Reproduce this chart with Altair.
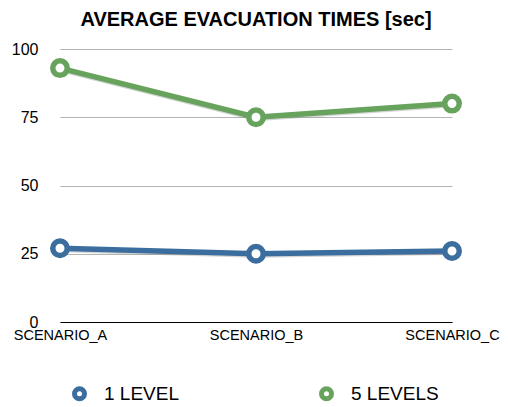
import altair as alt
import pandas as pd

scenarios = ["SCENARIO_A", "SCENARIO_B", "SCENARIO_C"]
series_names = ["1 LEVEL", "5 LEVELS"]
level1 = [27, 25, 26]
level5 = [93, 75, 80]
y_ticks = [0, 25, 50, 75, 100]
colors = ["#3b6e9e", "#68a35d"]

rows = []
for name, vals in zip(series_names, [level1, level5]):
    for s, v in zip(scenarios, vals):
        rows.append({"scenario": s, "series": name, "value": v})
df = pd.DataFrame(rows)

FONT = "Liberation Sans"

x = alt.X("scenario:N", sort=scenarios, title=None,
          scale=alt.Scale(type="point", padding=0),
          axis=alt.Axis(labelAngle=0, labelFontSize=14.5, labelColor="#000",
                        labelFont=FONT, ticks=False, domainColor="#000",
                        domainWidth=1, labelPadding=6, grid=False))
y = alt.Y("value:Q", title=None,
          scale=alt.Scale(domain=[0, 100], nice=False),
          axis=alt.Axis(values=y_ticks, labelFontSize=16, labelColor="#000",
                        labelFont=FONT, ticks=False, domain=False,
                        gridColor="#b3b3b3", gridWidth=1, labelPadding=22))
color = alt.Color("series:N", sort=series_names,
                  scale=alt.Scale(domain=series_names, range=colors),
                  legend=alt.Legend(title=None, orient="none", direction="horizontal",
                                    legendX=10, legendY=335,
                                    symbolType="circle", symbolFillColor="white",
                                    symbolStrokeWidth=5, symbolSize=100,
                                    labelFontSize=19, labelFont=FONT, labelColor="#000",
                                    labelOffset=15, columnPadding=132))

shadow = alt.Chart(df).mark_line(strokeWidth=4, color="#888", opacity=0.35, yOffset=2).encode(
    x=x, y=y, detail="series:N")
lines = alt.Chart(df).mark_line(strokeWidth=5.5).encode(x=x, y=y, color=color)
points = alt.Chart(df).mark_point(shape="circle", filled=False, fill="white", fillOpacity=1,
                                  size=210, strokeWidth=5.5, opacity=1).encode(
    x=x, y=y, color=color)

chart = alt.layer(shadow, lines, points).properties(
    width=392, height=273,
    title=alt.TitleParams("AVERAGE EVACUATION TIMES [sec]", fontSize=20, font=FONT,
                          fontWeight="bold", color="#000", anchor="middle", offset=11),
    autosize=alt.AutoSizeParams(type="none"),
    padding={"left": 52, "top": 41, "right": 48, "bottom": 88},
).configure_view(stroke=None)

chart.save("out.html", embed_options={"renderer": "svg", "actions": False})
